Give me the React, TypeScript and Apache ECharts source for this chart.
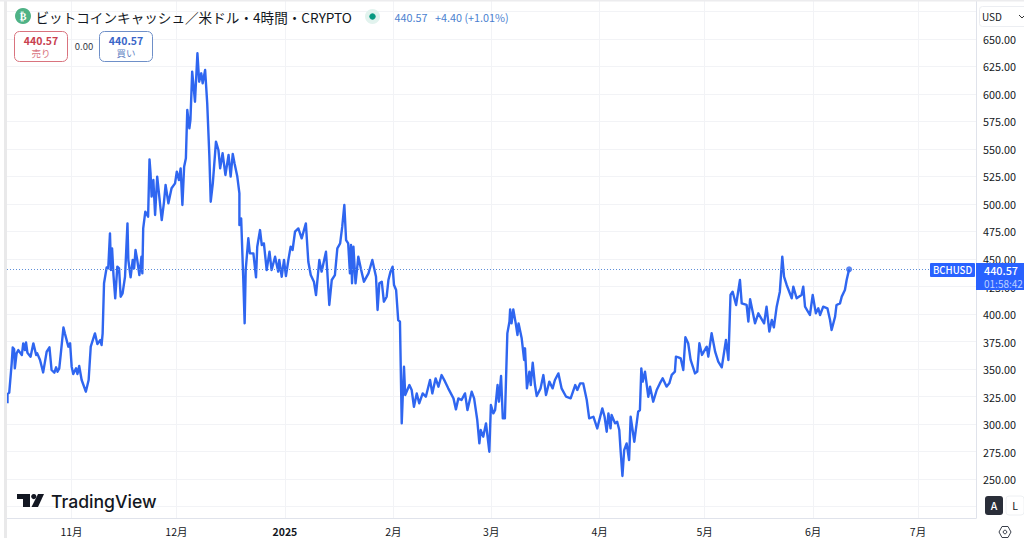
import React, { useEffect, useRef } from "react";
import * as echarts from "echarts";

// Days since 2024-11-01 for every sampled point
const days = [
  -18.3,-18.3,-17.8,-17.1,-16.8,-16.4,-16.2,-15.7,-15.2,-14.2,-13.8,-13.3,-13.0,-12.6,-11.7,-10.9,-10.1,-9.8,-9.0,-8.1,-7.1,-6.3,-5.7,-4.9,-4.4,-4.0,-3.5,-3.1,-2.3,-1.9,-0.9,-0.4,0.05,0.5,1.3,1.7,2.2,2.9,4.1,4.9,5.5,6.7,7.4,8.2,8.6,8.9,9.3,10.05,10.5,11.0,11.3,11.6,12.0,12.5,13.1,13.6,14.06,14.6,15.3,16.0,16.25,16.9,17.5,17.9,18.3,18.8,19.4,20.0,20.25,
  20.5,21.1,21.9,22.3,22.6,22.9,23.4,23.9,24.5,25.1,25.8,26.4,26.9,27.7,28.6,29.6,30.1,30.7,31.2,31.7,32.2,32.7,33.1,33.7,34.0,34.5,35.3,36.0,36.5,37.1,37.5,38.2,38.8,39.4,39.8,40.4,41.3,42.0,42.5,43.2,44.0,44.9,45.5,46.1,46.6,47.4,48.0,48.0,48.5,49.1,49.5,49.8,
  50.55,51.0,52.0,52.75,53.1,53.9,54.4,55.0,55.8,56.6,57.2,58.2,59.1,59.4,60.1,60.75,61.3,62.0,62.65,63.2,63.9,64.85,65.8,67.0,67.7,68.4,69.3,69.9,70.85,71.5,72.75,73.1,73.7,74.4,75.3,76.0,76.8,77.4,78.0,78.5,79.1,79.6,79.9,80.2,80.6,81.2,82.0,82.7,83.6,84.9,86.0,87.05,87.5,88.0,88.7,89.3,90.1,90.6,91.2,91.8,92.2,92.8,93.4,93.9,94.4,94.7,95.05,95.4,96.6,97.25,97.9,98.7,99.4,100.4,101.3,102.5,103.15,104.1,104.9,105.8,106.8,107.7,109.2,109.9,110.6,111.5,112.5,113.2,114.4,115.1,116.0,116.6,117.0,117.7,118.5,119.45,119.9,
  120.6,121.1,121.8,122.2,122.8,123.3,123.9,124.6,125.2,125.4,125.8,126.3,127.0,127.5,127.8,128.7,129.4,129.65,130.2,130.9,131.3,131.85,132.5,133.0,134.1,134.9,135.65,136.6,137.55,138.2,139.2,140.1,141.4,142.7,144.0,144.6,145.4,146.3,147.3,148.0,149.2,150.3,151.75,152.4,153.0,153.5,154.1,154.4,155.4,156.0,156.6,157.0,157.5,158.0,158.7,159.4,159.85,160.9,162.0,162.5,162.9,163.3,163.95,164.9,165.4,166.3,167.3,168.2,
  169.0,170.1,170.9,171.6,172.5,172.8,173.5,174.15,174.9,175.5,176.3,177.0,178.25,178.9,179.5,180.25,181.6,182.05,183.0,184.0,184.9,185.9,187.1,187.8,188.4,189.0,190.0,191.1,191.6,193.0,193.5,194.0,195.4,196.35,198.0,198.7,199.5,200.2,200.8,201.6,202.5,203.2,203.7,204.45,205.9,206.35,207.3,208.7,209.2,209.7,211.1,211.9,212.8,213.5,214.0,214.9,216.1,216.85,217.3,218.3,218.7,219.7,220.2,221.1,221.6,222.3,
];

// BCH/USD price at each sampled point
const prices = [
  318.8,327.2,328.5,355.1,369.7,367.9,350.6,364.2,367.2,362.7,373.3,367.2,374.2,364.8,361.2,373.3,362.7,364.2,358.2,346.9,365.7,369.7,349.1,346.6,351.5,347.5,350.6,362.7,387.8,382.4,370.3,373.3,352.1,345.4,350.6,345.4,352.7,340,329.4,340,370.3,382.4,372.7,376.3,371.8,382.4,427.9,442.4,441.5,473.3,440,459.7,435.4,414.2,443,441.5,415.7,418.8,433.9,482.4,449.1,433.3,449.1,441.5,458.2,449.1,435.4,452.1,436.9,
  477.9,493,488.5,540.6,527.9,506.7,521.8,490,524.9,506.6,485.4,500.6,517.3,500.6,514.3,518.8,529.4,521.8,532.4,499.1,533.9,541.5,585.5,568.8,576.4,620.3,593,637,611.2,618.8,609.7,621.8,591.5,544.6,502.1,518.8,556.7,549.1,532.4,546.1,526.4,544.6,524.9,545.5,537,524.9,509.7,480.9,486.9,432.4,391.5,440,
  468.8,455.1,455.1,433.3,461.2,476.3,462.7,464.2,440,456.6,440,452.1,438.5,449.1,433.9,449.1,434.5,449.1,461.2,458.2,474.8,477.8,468.8,482.4,447.5,435.4,429.4,417.2,449.1,438.5,456.6,440,408.2,430.9,435.4,459.7,464.2,479.4,499.1,467.2,464.2,436.9,462.7,427.9,461.2,427.9,452.1,441.5,429.4,436.9,449.1,433.9,403.6,427.9,429.4,411.2,415.7,430.9,438.5,443,426.3,421.8,394.5,393,300.6,324.8,352.1,326.3,335.4,330.9,315.7,327.8,318.8,327.8,324.8,340,327.8,341.5,333.9,344.5,338.5,332.4,323.3,313.3,323.3,321.8,327.8,312.7,329.4,323.3,303.6,282.4,294.5,288.5,300.6,274.8,317.3,
  309.7,312.7,335.4,320.3,343.6,305.1,305.1,382.4,393,404.2,391.5,404.2,391.5,380.9,391.5,377.9,358.2,368.8,332.4,347.6,335.4,355.7,335.4,325.4,332.4,344.5,326.3,338.5,332.4,340,346,332.4,324.8,323.3,335.4,330.9,336.9,336.9,321.8,305.1,306.6,296,314.2,306.6,293,309.7,296,308.2,300.6,302.1,294.5,274.8,252.7,276.3,282.4,267.3,306.6,283.9,311.2,312.7,350.6,338.5,347.6,324.8,333.9,320.3,330.9,336.9,
  341.5,334,337,344.6,347.6,361.2,360.6,359.7,349.1,378.8,373.4,358.2,346,347.6,373.4,362.8,370.3,361.2,382.5,365.8,356.7,351.5,376.4,358.2,417.3,420.3,408.2,430.9,409.7,408.2,393.1,413.4,391.5,400.6,391.5,406.7,384,394.6,387.9,406.7,420.3,452.1,434,426.4,414.3,424.9,414.3,417.3,424.9,406.7,399.1,417.3,400.6,405.2,399.1,406.7,405.2,394.6,385.5,397.6,408.2,409.7,415.8,421.8,430.9,440.57,
];

const priceTicks = [225,250,275,300,325,350,375,400,425,450,475,500,525,550,575,600,625,650,675];
const priceLabels = [250,275,300,325,350,375,400,425,450,475,500,525,550,575,600,625,650];
const monthDays = [0,30,61,92,120,151,181,212,242];
const monthLabels = ["11月","12月","2025","2月","3月","4月","5月","6月","7月"];
const lastPrice = 440.57;

const FONT = '"Noto Sans CJK JP", "Noto Sans", sans-serif';
const INK = "#131722";
const BLUE = "#2962ff";
const LINE = "#2f66f0";
const GRID = "#f2f3f6";
const BORDER = "#e0e3eb";

function txt(x: number, y: number, text: string, fontSize: number, fill: string, extra: any = {}) {
  return {
    type: "text", x, y, z: 100, silent: true,
    style: { text, fontSize, fill, fontFamily: FONT, align: "left", verticalAlign: "middle", lineHeight: fontSize, ...extra },
  };
}
function box(x: number, y: number, width: number, height: number, style: any, r: number = 0) {
  return { type: "rect", z: 99, silent: true, shape: { x, y, width, height, r }, style };
}

const graphics: any[] = [
  // frame
  box(4, 0, 3, 538, { fill: "#e9e9ea" }),
  box(0, 0, 1024, 1.5, { fill: "#ececee" }),
  // header
  { type: "circle", z: 99, silent: true, shape: { cx: 23, cy: 16, r: 8 }, style: { fill: "#4fb286" } },
  txt(23, 16.5, "₿", 10, "#ffffff", { align: "center", fontWeight: 700, fontFamily: "DejaVu Sans" }),
  txt(35.5, 16.5, "ビットコインキャッシュ／米ドル・4時間・CRYPTO", 13.6, INK),
  { type: "circle", z: 99, silent: true, shape: { cx: 372.5, cy: 16.5, r: 7.5 }, style: { fill: "#e2f3ee" } },
  { type: "circle", z: 100, silent: true, shape: { cx: 372.5, cy: 16.5, r: 3.2 }, style: { fill: "#089981" } },
  txt(394.5, 16.5, "440.57", 10.8, "#4a7fd0"),
  txt(435, 16.5, "+4.40 (+1.01%)", 10.8, "#4a7fd0"),
  // sell and buy
  box(14.5, 31.5, 53, 30, { fill: "#fff", stroke: "#d9737e", lineWidth: 1 }, 5),
  txt(41, 40, "440.57", 10.5, "#c8404e", { align: "center", fontWeight: 700 }),
  txt(41, 53, "売り", 9.5, "#d9737e", { align: "center" }),
  txt(84, 45.5, "0.00", 9.5, "#333844", { align: "center" }),
  box(99.5, 31.5, 53, 30, { fill: "#fff", stroke: "#6e8fc8", lineWidth: 1 }, 5),
  txt(126, 40, "440.57", 10.5, "#3a66c8", { align: "center", fontWeight: 700 }),
  txt(126, 53, "買い", 9.5, "#5f82c4", { align: "center" }),
  // currency selector
  box(979.5, 6.5, 50, 20, { fill: "#fff", stroke: "#eceef2", lineWidth: 1 }, 3),
  txt(982, 16.5, "USD", 10, INK),
  { type: "polyline", z: 100, silent: true, shape: { points: [[1019, 15], [1022, 18], [1024, 16]] }, style: { stroke: "#333", lineWidth: 1, fill: "none" } },
  // last price tags
  box(930, 263, 45, 14, { fill: BLUE }, 1),
  txt(952.5, 270, "BCHUSD", 9.6, "#fff", { align: "center", fontWeight: 500 }),
  box(976, 263, 48, 27, { fill: BLUE }),
  txt(984, 270, "440.57", 10.8, "#fff", { fontWeight: 500 }),
  txt(984, 283, "01:58:42", 10, "#bcd0ff"),
  // scale buttons
  box(985, 496, 18, 19, { fill: "#2a2e39" }, 3),
  txt(994, 505.5, "A", 10.5, "#fff", { align: "center", fontWeight: 500 }),
  box(1006, 496, 18, 19, { fill: "#fff", stroke: "#eef0f3", lineWidth: 1 }, 3),
  txt(1015, 505.5, "L", 10.5, INK, { align: "center" }),
  {
    type: "polygon", z: 100, silent: true,
    shape: { points: [[999, 532], [1002, 526.5], [1008, 526.5], [1011, 532], [1008, 537.5], [1002, 537.5]] },
    style: { fill: "none", stroke: "#3a3f4a", lineWidth: 1 },
  },
  { type: "circle", z: 100, silent: true, shape: { cx: 1005, cy: 532, r: 1.8 }, style: { fill: "none", stroke: "#3a3f4a", lineWidth: 1 } },
  // TradingView logo
  { type: "polygon", z: 100, silent: true, shape: { points: [[17, 494], [30, 494], [30, 507], [23, 507], [23, 499], [17, 499]] }, style: { fill: INK } },
  { type: "circle", z: 100, silent: true, shape: { cx: 33.8, cy: 496.6, r: 2.6 }, style: { fill: INK } },
  { type: "polygon", z: 100, silent: true, shape: { points: [[38, 494], [44, 494], [38, 507], [31.5, 507]] }, style: { fill: INK } },
  txt(51, 501, "TradingView", 17.6, INK, { fontFamily: "Inter", fontWeight: 500 }),
];

export default function App() {
  const ref = useRef<HTMLDivElement>(null);
  useEffect(() => {
    const chart = echarts.init(ref.current!, null, { renderer: "svg" });
    chart.setOption({
      animation: false,
      backgroundColor: "#ffffff",
      textStyle: { fontFamily: FONT },
      grid: { left: 7, right: 48, top: 0, height: 518, containLabel: false },
      xAxis: {
        type: "value",
        min: -18.44,
        max: 258.58,
        axisLine: { show: true, onZero: false, lineStyle: { color: BORDER, width: 1 } },
        axisTick: { show: false, customValues: monthDays },
        splitLine: { show: true, lineStyle: { color: GRID, width: 1 } },
        axisLabel: {
          customValues: monthDays,
          margin: 8,
          fontSize: 10.5,
          lineHeight: 11,
          color: INK,
          fontFamily: FONT,
          hideOverlap: false,
          formatter: (v: number) => {
            const s = monthLabels[monthDays.indexOf(v)] ?? "";
            return /^\d{4}$/.test(s) ? `{b|${s}}` : s;
          },
          rich: { b: { fontWeight: 700, fontSize: 10.5, lineHeight: 11, color: INK, fontFamily: FONT } },
        },
      },
      yAxis: {
        type: "value",
        position: "right",
        min: 214.55,
        max: 685.45,
        axisLine: { show: true, onZero: false, lineStyle: { color: BORDER, width: 1 } },
        axisTick: { show: false, customValues: priceTicks },
        splitLine: { show: true, lineStyle: { color: GRID, width: 1 } },
        axisLabel: {
          customValues: priceLabels,
          margin: 7,
          fontSize: 10.8,
          color: INK,
          fontFamily: FONT,
          hideOverlap: false,
          formatter: (v: number) => v.toFixed(2),
        },
      },
      series: [
        {
          type: "line",
          data: days.map((d, i) => [d, prices[i]]),
          showSymbol: false,
          symbol: "none",
          smooth: false,
          lineStyle: { color: LINE, width: 2.4, join: "round" },
          markLine: {
            silent: true,
            symbol: "none",
            label: { show: false },
            lineStyle: { color: "#5f8fd8", width: 1, type: [1, 2] },
            data: [{ yAxis: lastPrice }],
          },
        },
        {
          type: "scatter",
          data: [[days[days.length - 1], lastPrice]],
          symbol: "circle",
          symbolSize: 6,
          itemStyle: { color: LINE },
        },
      ],
      graphic: { elements: graphics },
    });
    return () => chart.dispose();
  }, []);
  return <div ref={ref} style={{ position: "absolute", left: 0, top: 0, width: 1024, height: 538 }} />;
}
